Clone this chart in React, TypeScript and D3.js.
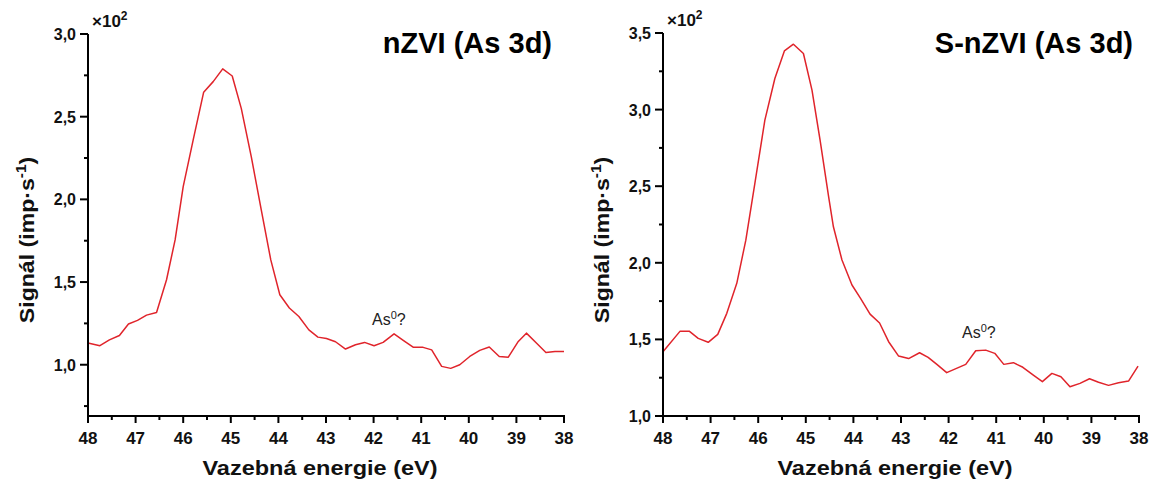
import React from "react";
import * as d3 from "d3";

// ---- data (signal in units of x10^2 imp/s) ----
const nzviEnergy = [48.0, 47.75, 47.55, 47.34, 47.15, 46.96, 46.77, 46.56, 46.35, 46.17, 46.0, 45.79, 45.57, 45.37, 45.17, 44.97, 44.78, 44.57, 44.36, 44.16, 43.97, 43.77, 43.57, 43.36, 43.17, 42.99, 42.8, 42.59, 42.38, 42.19, 41.99, 41.8, 41.57, 41.37, 41.17, 40.96, 40.78, 40.57, 40.38, 40.19, 39.98, 39.77, 39.57, 39.36, 39.17, 38.96, 38.79, 38.58, 38.38, 38.19, 38.0];
const nzviSignal = [1.131, 1.115, 1.15, 1.177, 1.246, 1.268, 1.3, 1.316, 1.514, 1.755, 2.077, 2.36, 2.648, 2.712, 2.789, 2.746, 2.55, 2.258, 1.937, 1.634, 1.423, 1.343, 1.292, 1.211, 1.167, 1.159, 1.139, 1.095, 1.121, 1.135, 1.115, 1.135, 1.187, 1.146, 1.106, 1.105, 1.09, 0.99, 0.978, 1.0, 1.05, 1.087, 1.107, 1.05, 1.046, 1.141, 1.191, 1.131, 1.074, 1.08, 1.08];

const snzviEnergy = [48.0, 47.64, 47.45, 47.26, 47.05, 46.85, 46.66, 46.45, 46.26, 46.07, 45.86, 45.65, 45.45, 45.26, 45.05, 44.87, 44.7, 44.52, 44.42, 44.24, 44.03, 43.85, 43.65, 43.45, 43.26, 43.05, 42.84, 42.61, 42.43, 42.24, 42.04, 41.64, 41.43, 41.22, 41.03, 40.84, 40.64, 40.44, 40.22, 40.03, 39.83, 39.64, 39.45, 39.24, 39.04, 38.85, 38.64, 38.43, 38.22, 38.02];
const snzviSignal = [1.419, 1.554, 1.554, 1.507, 1.481, 1.533, 1.67, 1.866, 2.148, 2.518, 2.931, 3.203, 3.383, 3.427, 3.366, 3.127, 2.8, 2.43, 2.235, 2.018, 1.855, 1.768, 1.665, 1.607, 1.485, 1.391, 1.375, 1.413, 1.383, 1.335, 1.283, 1.337, 1.426, 1.43, 1.409, 1.337, 1.348, 1.318, 1.267, 1.224, 1.278, 1.256, 1.191, 1.213, 1.243, 1.22, 1.2, 1.217, 1.228, 1.326];

const xTicks = [48, 47, 46, 45, 44, 43, 42, 41, 40, 39, 38];
const xMinorTicks = [47.5, 46.5, 45.5, 44.5, 43.5, 42.5, 41.5, 40.5, 39.5, 38.5];
const nzviYTicks = [1.0, 1.5, 2.0, 2.5, 3.0];
const nzviYMinor = [0.75, 1.25, 1.75, 2.25, 2.75];
const snzviYTicks = [1.0, 1.5, 2.0, 2.5, 3.0, 3.5];
const snzviYMinor = [1.25, 1.75, 2.25, 2.75, 3.25];

const titles = ["nZVI (As 3d)", "S-nZVI (As 3d)"];
const xAxisTitle = "Vazebná energie (eV)";
const annotation = "As";

const FONT = "'Liberation Sans', Arial, Helvetica, sans-serif";
const RED = "#e0242b";
const fmt = (v: number) => d3.format(".1f")(v).replace(".", ",");

type PanelProps = {
  energy: number[];
  signal: number[];
  yDomain: [number, number];
  yTicks: number[];
  yMinor: number[];
  left: number;
  right: number;
  top: number;
  bottom: number;
  title: string;
  titleRight: number;
  annX: number;
  annY: number;
  yLabelX: number;
};

function Panel(p: PanelProps) {
  const x = d3.scaleLinear().domain([48, 38]).range([p.left, p.right]);
  const y = d3.scaleLinear().domain(p.yDomain).range([p.bottom, p.top]);
  const pts = p.energy.map((e, i) => [e, p.signal[i]] as [number, number]);
  const line = d3.line<[number, number]>().x((d) => x(d[0])).y((d) => y(d[1]));
  const cx = (p.left + p.right) / 2;
  const yMid = 240;
  return (
    <g>
      <path d={line(pts) || ""} fill="none" stroke={RED} strokeWidth={1.5} strokeLinejoin="round" />
      {/* axes */}
      <line x1={p.left} x2={p.left} y1={y(p.yDomain[1])} y2={p.bottom + 1} stroke="#000" strokeWidth={2} />
      <line x1={p.left - 1} x2={p.right + 1} y1={p.bottom} y2={p.bottom} stroke="#000" strokeWidth={2} />
      {p.yTicks.map((t) => (
        <g key={"yt" + t}>
          <line x1={p.left - 8} x2={p.left} y1={y(t)} y2={y(t)} stroke="#000" strokeWidth={2} />
          <text x={p.left - 12} y={y(t) + 6} textAnchor="end" fontFamily={FONT} fontWeight="bold" fontSize={16} fill="#111">
            {fmt(t)}
          </text>
        </g>
      ))}
      {p.yMinor.map((t) => (
        <line key={"ym" + t} x1={p.left - 4} x2={p.left} y1={y(t)} y2={y(t)} stroke="#000" strokeWidth={2} />
      ))}
      {xTicks.map((t) => (
        <g key={"xt" + t}>
          <line x1={x(t)} x2={x(t)} y1={p.bottom} y2={p.bottom + 7} stroke="#000" strokeWidth={2} />
          <text x={x(t)} y={p.bottom + 28} textAnchor="middle" fontFamily={FONT} fontWeight="bold" fontSize={17} fill="#111">
            {t}
          </text>
        </g>
      ))}
      {xMinorTicks.map((t) => (
        <line key={"xm" + t} x1={x(t)} x2={x(t)} y1={p.bottom} y2={p.bottom + 4} stroke="#000" strokeWidth={2} />
      ))}
      {/* multiplier */}
      <text x={p.left + 4} y={y(p.yDomain[1]) - 7} fontFamily={FONT} fontSize={17} fontWeight="bold" fill="#111">
        ×10<tspan dy={-7} fontSize={12}>2</tspan>
      </text>
      {/* title */}
      <text x={p.titleRight} y={53} textAnchor="end" fontFamily={FONT} fontWeight="bold" fontSize={29} fill="#000">
        {p.title}
      </text>
      {/* annotation */}
      <text x={p.annX} y={p.annY} fontFamily={FONT} fontSize={16} fill="#222">
        {annotation}
        <tspan dy={-6} fontSize={11}>0</tspan>
        <tspan dy={6}>?</tspan>
      </text>
      {/* x axis title */}
      <text transform={`translate(${cx - 6},475) scale(1.12,1)`} textAnchor="middle" fontFamily={FONT} fontWeight="bold" fontSize={21} fill="#111">
        {xAxisTitle}
      </text>
      {/* y axis title */}
      <text transform={`translate(${p.yLabelX},${yMid}) rotate(-90) scale(1.1,1)`} textAnchor="middle" fontFamily={FONT} fontWeight="bold" fontSize={21} fill="#111">
        Signál (imp·s<tspan dy={-8} fontSize={14}>-1</tspan>
        <tspan dy={8}>)</tspan>
      </text>
    </g>
  );
}

export default function App() {
  return (
    <svg width={1151} height={482} style={{ display: "block", position: "absolute", left: 0, top: 0 }}>
      <rect width={1151} height={482} fill="#fff" />
      <Panel
        energy={nzviEnergy}
        signal={nzviSignal}
        yDomain={[0.69, 3.0]}
        yTicks={nzviYTicks}
        yMinor={nzviYMinor}
        left={88}
        right={564}
        top={34}
        bottom={416}
        title={titles[0]}
        titleRight={552}
        annX={372}
        annY={325}
        yLabelX={34}
      />
      <Panel
        energy={snzviEnergy}
        signal={snzviSignal}
        yDomain={[1.0, 3.5]}
        yTicks={snzviYTicks}
        yMinor={snzviYMinor}
        left={663}
        right={1139}
        top={33}
        bottom={416}
        title={titles[1]}
        titleRight={1133}
        annX={962}
        annY={338}
        yLabelX={609}
      />
    </svg>
  );
}
